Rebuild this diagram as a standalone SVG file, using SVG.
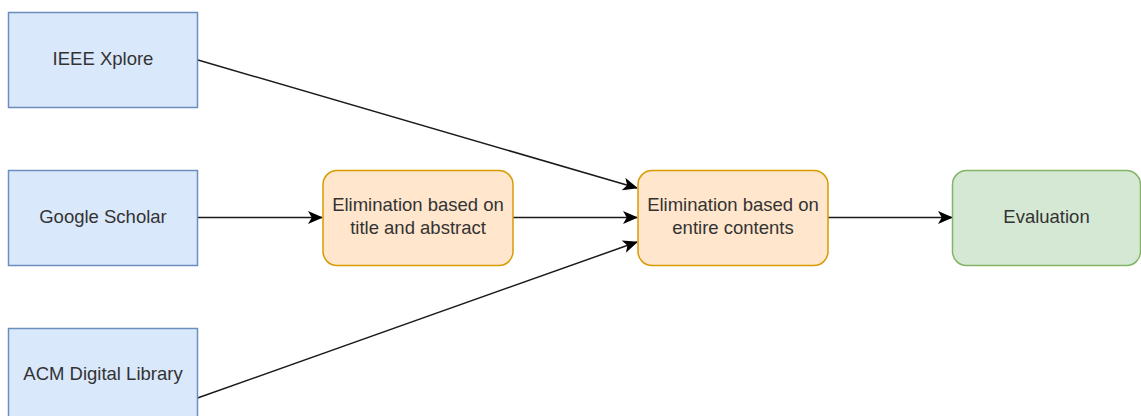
<svg xmlns="http://www.w3.org/2000/svg" width="1141" height="416" viewBox="0 0 1141 416">
<style>
.src{fill:#dae8fc;stroke:#6c8ebf;stroke-width:1.5}
.mid{fill:#ffe6cc;stroke:#d79b00;stroke-width:1.5}
.end{fill:#d5e8d4;stroke:#82b366;stroke-width:1.5}
.lbl{font-family:"Liberation Sans",Arial,sans-serif;font-size:18.5px;fill:#333333;text-anchor:middle}
.edge{stroke:#1a1a1a;stroke-width:1.5;fill:none}
</style>
<defs>
<marker id="arr" markerUnits="userSpaceOnUse" viewBox="0 0 15 13" markerWidth="15" markerHeight="13" refX="14" refY="6.5" orient="auto">
<path d="M0,0 L15,6.5 L0,13 L3.8,6.5 Z" fill="#000"/>
</marker>
</defs>
<g id="connectors">
<line class="edge" x1="198" y1="60" x2="637" y2="188" marker-end="url(#arr)"/>
<line class="edge" x1="198" y1="217.5" x2="322" y2="217.5" marker-end="url(#arr)"/>
<line class="edge" x1="197.5" y1="398" x2="637" y2="242" marker-end="url(#arr)"/>
<line class="edge" x1="513" y1="217.5" x2="637" y2="217.5" marker-end="url(#arr)"/>
<line class="edge" x1="828" y1="217.5" x2="952" y2="217.5" marker-end="url(#arr)"/>
</g>
<g id="ieee">
<rect class="src" x="8.5" y="12.5" width="189" height="95"/>
<text class="lbl" x="103" y="65">IEEE Xplore</text>
</g>
<g id="scholar">
<rect class="src" x="8.5" y="170.5" width="189" height="95"/>
<text class="lbl" x="103" y="222.5">Google Scholar</text>
</g>
<g id="acm">
<rect class="src" x="8.5" y="328.5" width="189" height="95"/>
<text class="lbl" x="103" y="380">ACM Digital Library</text>
</g>
<g id="elim1">
<rect class="mid" x="323" y="170.5" width="190" height="95" rx="14" ry="14"/>
<text class="lbl" x="418" y="210.5">Elimination based on</text>
<text class="lbl" x="418" y="234">title and abstract</text>
</g>
<g id="elim2">
<rect class="mid" x="638" y="170.5" width="190" height="95" rx="14" ry="14"/>
<text class="lbl" x="733" y="210.5">Elimination based on</text>
<text class="lbl" x="733" y="234">entire contents</text>
</g>
<g id="evaluation">
<rect class="end" x="952.5" y="170.5" width="188" height="95" rx="14" ry="14"/>
<text class="lbl" x="1046.5" y="222.5">Evaluation</text>
</g>
</svg>
